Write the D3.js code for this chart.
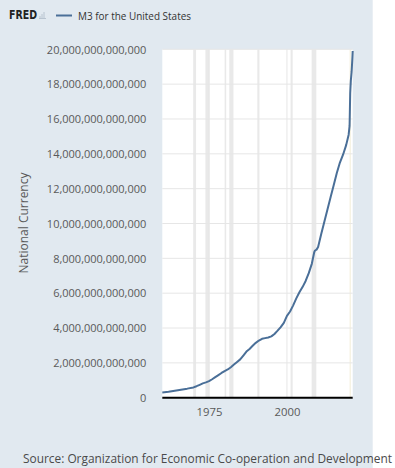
<!DOCTYPE html>
<html>
<head>
<meta charset="utf-8">
<script src="https://cdn.jsdelivr.net/npm/d3@7"></script>
<style>
  html, body { margin: 0; padding: 0; background: #ffffff; }
  svg { display: block; font-family: "Open Sans", "Noto Sans", sans-serif; }
</style>
</head>
<body>
<svg id="chart" width="395" height="468"></svg>
<script>
// ---- data (fractional year, value in USD) ----
const years = [1960.0, 1962, 1964, 1966, 1968, 1970, 1971, 1972, 1973, 1974, 1975, 1976, 1977, 1978, 1979,
  1980, 1981, 1982, 1983, 1984, 1985, 1986, 1987, 1988, 1989, 1990, 1991, 1992, 1993, 1994, 1995,
  1996, 1997, 1998, 1999, 2000, 2001, 2002, 2003, 2004, 2005, 2006, 2007, 2008, 2008.75, 2009, 2009.5,
  2010, 2011, 2012, 2013, 2014, 2015, 2016, 2017, 2018, 2019, 2019.8, 2020.1, 2020.3, 2020.5, 2020.75,
  2021.0, 2021.1];
const valuesT = [0.30, 0.34, 0.40, 0.46, 0.52, 0.59, 0.66, 0.74, 0.82, 0.88, 0.95, 1.06, 1.18, 1.30, 1.42,
  1.53, 1.62, 1.75, 1.90, 2.05, 2.20, 2.42, 2.65, 2.80, 2.98, 3.15, 3.28, 3.38, 3.42, 3.46, 3.52,
  3.66, 3.85, 4.05, 4.30, 4.70, 4.95, 5.30, 5.70, 6.05, 6.35, 6.70, 7.15, 7.70, 8.35, 8.45, 8.50,
  8.65, 9.40, 10.1, 10.8, 11.5, 12.2, 12.9, 13.5, 13.95, 14.5, 15.1, 15.6, 17.5, 18.2, 18.7,
  19.5, 19.9];
const values = valuesT.map(v => v * 1e12);

const recessions = [[1969.92, 1970.83], [1973.83, 1975.17], [1980.0, 1980.5], [1981.5, 1982.83],
  [1990.5, 1991.17], [2001.17, 2001.83], [2007.92, 2009.42], [2020.08, 2020.25]];

const yTicks = [0, 2e12, 4e12, 6e12, 8e12, 10e12, 12e12, 14e12, 16e12, 18e12, 20e12];
const xTicks = [1975, 2000];

const seriesName = "M3 for the United States";
const yTitle = "National Currency";
const sourceText = "Source: Organization for Economic Co-operation and Development";

// ---- layout ----
const svg = d3.select("#chart");
const W = 395, H = 468;
const plot = { left: 162.3, right: 352.7, top: 49.3, bottom: 397.7 };

svg.append("rect").attr("x", 0).attr("y", 0).attr("width", 372.7).attr("height", H).attr("fill", "#e1e9f0");

const x = d3.scaleLinear().domain([1960.0, 2021.1]).range([plot.left, plot.right]);
const y = d3.scaleLinear().domain([0, 20e12]).range([plot.bottom, plot.top]);

// plot background
svg.append("rect").attr("x", plot.left).attr("y", plot.top)
  .attr("width", plot.right - plot.left).attr("height", plot.bottom - plot.top)
  .attr("fill", "#ffffff");

// recession bars
svg.append("g").selectAll("rect").data(recessions).join("rect")
  .attr("x", d => x(d[0]))
  .attr("width", d => Math.max(1.5, x(d[1]) - x(d[0])))
  .attr("y", plot.top).attr("height", plot.bottom - plot.top)
  .attr("fill", (d, i) => i === recessions.length - 1 ? "#f6f3e4" : "#e9e9e9");

// horizontal gridlines
svg.append("g").selectAll("line").data(yTicks.slice(1)).join("line")
  .attr("x1", plot.left).attr("x2", plot.right)
  .attr("y1", d => y(d)).attr("y2", d => y(d))
  .attr("stroke", "#e6e6e6").attr("stroke-width", 1);

// vertical gridlines
svg.append("g").selectAll("line").data(xTicks).join("line")
  .attr("x1", d => x(d)).attr("x2", d => x(d))
  .attr("y1", plot.top).attr("y2", plot.bottom)
  .attr("stroke", "#e6e6e6").attr("stroke-width", 1);

// y axis labels
const yAxis = d3.axisLeft(y).tickValues(yTicks).tickSize(0).tickPadding(0)
  .tickFormat(d => d === 0 ? "0" : d3.format(",.0f")(d));
const gy = svg.append("g").attr("transform", `translate(${plot.left - 16},0)`).call(yAxis);
gy.select(".domain").remove();
gy.selectAll("text").attr("font-size", 11).attr("fill", "#595959")
  .attr("font-family", "'Open Sans', sans-serif").attr("dy", "0.34em");

// x axis
const xAxis = d3.axisBottom(x).tickValues(xTicks).tickSize(0).tickPadding(0).tickFormat(d3.format("d"));
const gx = svg.append("g").attr("transform", `translate(0,${plot.bottom + 10})`).call(xAxis);
gx.select(".domain").remove();
gx.selectAll("text").attr("font-size", 11.3).attr("fill", "#595959")
  .attr("font-family", "'Open Sans', sans-serif").attr("dy", "0.71em");

// baseline
svg.append("line").attr("x1", plot.left).attr("x2", plot.right)
  .attr("y1", plot.bottom).attr("y2", plot.bottom)
  .attr("stroke", "#000000").attr("stroke-width", 2);

// series line
const pts = years.map((yr, i) => [yr, values[i]]);
svg.append("path").datum(pts)
  .attr("fill", "none").attr("stroke", "#4a6f98").attr("stroke-width", 2)
  .attr("stroke-linejoin", "round")
  .attr("d", d3.line().x(d => x(d[0])).y(d => y(d[1])));

// y title
svg.append("text").attr("transform", `translate(28,${223}) rotate(-90)`)
  .attr("text-anchor", "middle").attr("font-size", 12).attr("fill", "#595959")
  .text(yTitle);

// header: FRED logo + legend
svg.append("text").attr("x", 9).attr("y", 19).attr("font-size", 12).attr("font-weight", 800)
  .attr("font-family", "'DejaVu Sans', sans-serif").attr("fill", "#222")
  .attr("textLength", 28).attr("lengthAdjust", "spacingAndGlyphs")
  .text("FRED");
svg.append("path").attr("d", "M40,18 L40,16 M42,18 L42,14 M44,18 L44,12 M39,18.5 L46,18.5")
  .attr("stroke", "#b8c4d0").attr("stroke-width", 1).attr("fill", "none");
svg.append("line").attr("x1", 56).attr("x2", 72).attr("y1", 15.5).attr("y2", 15.5)
  .attr("stroke", "#4a6f98").attr("stroke-width", 2);
svg.append("text").attr("x", 78).attr("y", 19.5).attr("font-size", 11.5).attr("fill", "#333")
  .attr("textLength", 113).attr("lengthAdjust", "spacingAndGlyphs")
  .text(seriesName);

// source
svg.append("text").attr("x", 23).attr("y", 463).attr("font-size", 12).attr("fill", "#4a4a4a")
  .attr("textLength", 369).attr("lengthAdjust", "spacingAndGlyphs")
  .text(sourceText);
</script>
</body>
</html>
